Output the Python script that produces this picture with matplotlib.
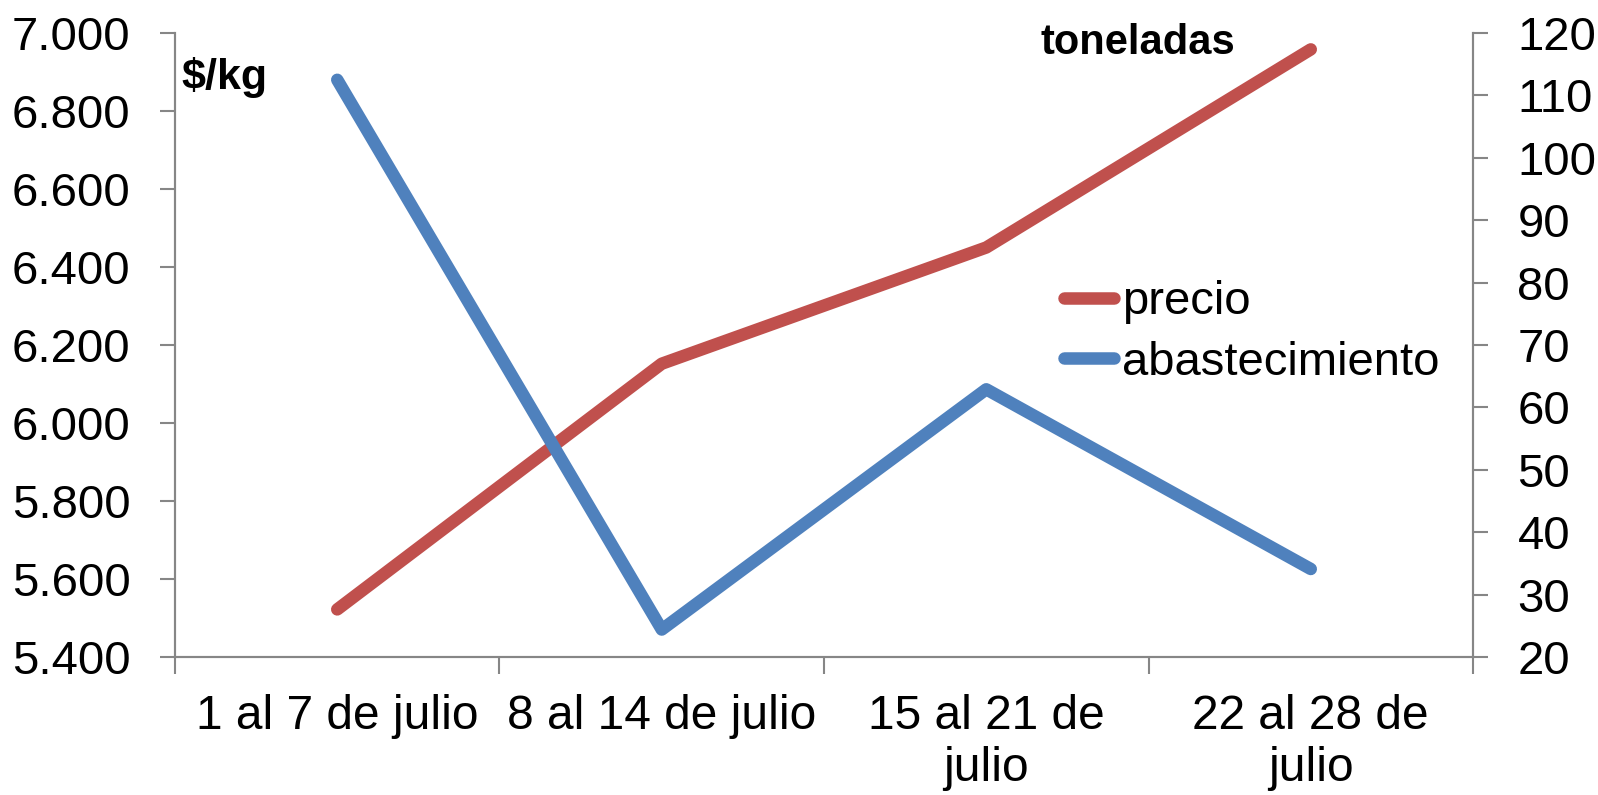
import numpy as np
import matplotlib
matplotlib.use("Agg")
from matplotlib import pyplot as plt
from matplotlib.ticker import FuncFormatter

plt.rcParams['font.family'] = ['Liberation Sans', 'DejaVu Sans']

semanas = ["1 al 7 de julio", "8 al 14 de julio", "15 al 21 de\njulio", "22 al 28 de\njulio"]
precio = [5522, 6152, 6450, 6958]
abastecimiento = [112.5, 24.4, 62.9, 34.1]

rojo = "#C0504D"
azul = "#4F81BD"
gris = "#868686"

fig = plt.figure(figsize=(15.98, 7.95), dpi=100)
ax = fig.add_axes([0.1095, 0.1736, 0.8123, 0.7849])
x = np.arange(len(semanas))

# precio on the left axis
l1, = ax.plot(x, precio, color=rojo, lw=9, solid_capstyle="round",
              solid_joinstyle="round", label="precio")
ax.set_ylim(5400, 7000)
ax.set_yticks(np.arange(5400, 7001, 200))
ax.yaxis.set_major_formatter(FuncFormatter(lambda v, p: f"{v/1000:.3f}"))
ax.set_xlim(-0.5, 3.5)
ax.set_xticks(x, semanas)
ax.set_xticks(np.arange(-0.5, 3.6, 1), minor=True)
ax.tick_params(axis="x", which="major", length=0, pad=27, labelsize=34.5)
ax.tick_params(axis="x", which="minor", length=12, width=1.5, color=gris)
ax.tick_params(axis="y", length=11, width=1.5, color=gris, labelsize=34, pad=21)

# abastecimiento on the right axis
ax2 = ax.twinx()
l2, = ax2.plot(x, abastecimiento, color=azul, lw=9, solid_capstyle="round",
               solid_joinstyle="round", label="abastecimiento")
ax2.set_ylim(20, 120)
ax2.set_yticks(np.arange(20, 121, 10))
ax2.tick_params(axis="y", length=11, width=1.5, color=gris, labelsize=34, pad=21)

for a in (ax, ax2):
    a.spines["top"].set_visible(False)
    for s in ("left", "right", "bottom"):
        a.spines[s].set_color(gris)
        a.spines[s].set_linewidth(1.5)

fig.text(0.1135, 0.903, "$/kg", fontsize=31, fontweight="bold", va="center", ha="left")
fig.text(0.712, 0.946, "toneladas", fontsize=30, fontweight="bold", va="center", ha="center")

fig.legend([l1, l2], ["precio", "abastecimiento"], loc="center left",
           bbox_to_anchor=(0.6658, 0.5818), frameon=False, fontsize=34,
           handlelength=1.06, handletextpad=0.17, labelspacing=0.35, borderpad=0,
           borderaxespad=0)

fig.savefig("out.png", dpi=100)
